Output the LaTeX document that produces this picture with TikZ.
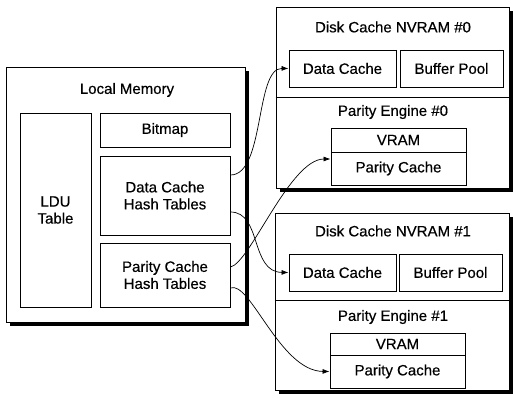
\documentclass[tikz,border=0pt]{standalone}
\usepackage{fontspec}
\setmainfont{Liberation Sans}
\newfontfamily\dfont{Liberation Sans}[FakeBold=0.4]
\usetikzlibrary{arrows.meta,calc}
\begin{document}
\begin{tikzpicture}[x=1pt,y=-1pt,
  box/.style={draw, line width=0.9pt, fill=white, inner sep=0pt, font=\dfont\fontsize{15}{17}\selectfont, align=center},
  lbl/.style={inner sep=0pt, font=\dfont\fontsize{15}{17}\selectfont, align=center},
  shadow/.style={fill=black, draw=none},
  link/.style={line width=0.7pt, -{Latex[length=7pt,width=5pt]}}]
\useasboundingbox (0,0) rectangle (513,398);
% Local memory
\fill[shadow] (10,71) rectangle (249,326);
\node[box, minimum width=239pt, minimum height=255pt] (lm) at (125.5,194.5) {};
\node[lbl] (lmt) at (127,90) {Local Memory};
\node[box, minimum width=71pt, minimum height=194pt] (ldu) at (55.5,210) {LDU\\Table};
\node[box, minimum width=130pt, minimum height=34pt] (bm) at (165,130) {Bitmap};
\node[box, minimum width=130pt, minimum height=79pt] (dcht) at (165,195.5) {Data Cache\\Hash Tables};
\node[box, minimum width=130pt, minimum height=64pt] (pcht) at (165,275) {Parity Cache\\Hash Tables};
% NVRAM 0
\fill[shadow] (280,11) rectangle (513,192);
\node[box, minimum width=233pt, minimum height=181pt] (nv0) at (392.5,97.5) {};
\coordinate (d0a) at (nv0.west |- 0,97);
\coordinate (d0b) at (nv0.east |- 0,97);
\draw[line width=0.9pt] (d0a) -- (d0b);
\node[lbl] (t0) at (393,27) {Disk Cache NVRAM \#0};
\node[box, minimum width=107pt, minimum height=37pt] (dc0) at (342.5,68.5) {Data Cache};
\node[box, minimum width=103pt, minimum height=37pt] (bp0) at (451.5,68.5) {Buffer Pool};
\node[lbl] (pe0) at (393,112) {Parity Engine \#0};
\node[box, minimum width=135pt, minimum height=24pt] (vr0) at (398.5,140) {VRAM};
\node[box, minimum width=135pt, minimum height=33pt] (pc0) at (398.5,168.5) {Parity Cache};
% NVRAM 1
\fill[shadow] (279,217) rectangle (513,394);
\node[box, minimum width=234pt, minimum height=177pt] (nv1) at (392,301.5) {};
\coordinate (d1a) at (nv1.west |- 0,300);
\coordinate (d1b) at (nv1.east |- 0,300);
\draw[line width=0.9pt] (d1a) -- (d1b);
\node[lbl] (t1) at (393,231) {Disk Cache NVRAM \#1};
\node[box, minimum width=107pt, minimum height=37pt] (dc1) at (342.5,272.5) {Data Cache};
\node[box, minimum width=103pt, minimum height=37pt] (bp1) at (450.5,272.5) {Buffer Pool};
\node[lbl] (pe1) at (393,317) {Parity Engine \#1};
\node[box, minimum width=135pt, minimum height=22pt] (vr1) at (397.5,344) {VRAM};
\node[box, minimum width=135pt, minimum height=33pt] (pc1) at (397.5,371.5) {Parity Cache};
% connectors
\coordinate (s1) at (dcht.east |- 0,175);
\coordinate (s2) at (dcht.east |- 0,212);
\coordinate (s3) at (pcht.east |- 0,267);
\coordinate (s4) at (pcht.east |- 0,288);
\coordinate (e3) at (pc0.west |- 0,159);
\draw[link] (s1) .. controls (265,175) and (255,68) .. (dc0.west);
\draw[link] (s2) .. controls (262,212) and (250,272) .. (dc1.west);
\draw[link] (s3) .. controls (250,263) and (290,159) .. (e3);
\draw[link] (s4) .. controls (250,280) and (280,371) .. (pc1.west);
\end{tikzpicture}
\end{document}
